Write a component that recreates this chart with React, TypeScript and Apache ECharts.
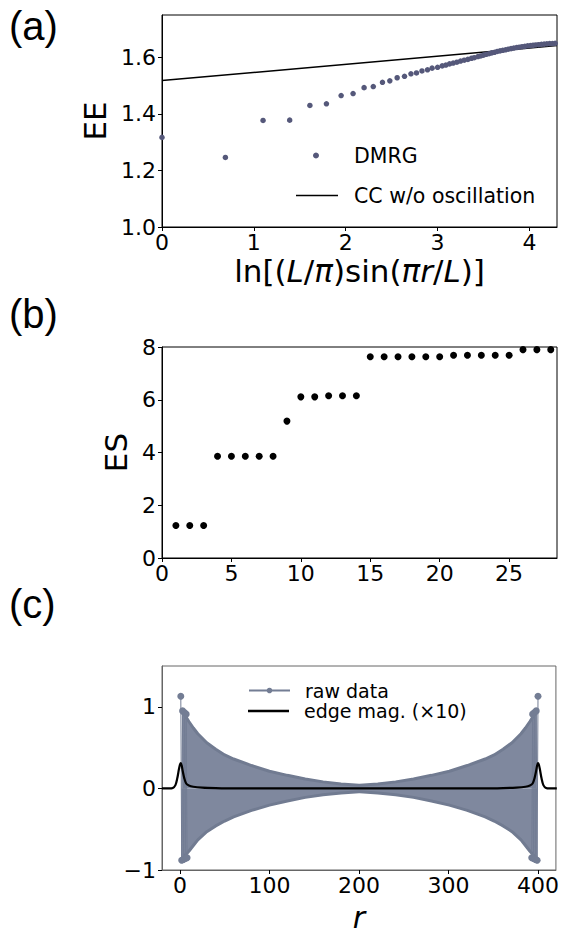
import React, { useEffect, useRef } from "react";
import * as echarts from "echarts";

// ---------- Panel (a): entanglement entropy ----------
const eeX = [0, 0.69, 1.10, 1.39, 1.61, 1.79, 1.95, 2.08, 2.20, 2.30, 2.40, 2.48, 2.56, 2.64, 2.71, 2.77, 2.83, 2.89, 2.94, 3.00,
  3.05, 3.09, 3.13, 3.17, 3.21, 3.25, 3.29, 3.33, 3.37, 3.40, 3.44, 3.47, 3.50, 3.53, 3.56, 3.59, 3.62, 3.65, 3.68, 3.71,
  3.74, 3.77, 3.80, 3.83, 3.86, 3.89, 3.92, 3.95, 3.98, 4.01, 4.04, 4.07, 4.10, 4.13, 4.16, 4.19, 4.22, 4.25, 4.28];
const eeY = [1.317, 1.246, 1.377, 1.378, 1.430, 1.436, 1.465, 1.472, 1.493, 1.497, 1.512, 1.517, 1.528, 1.533, 1.542, 1.545, 1.552, 1.556, 1.562, 1.565,
  1.570, 1.573, 1.577, 1.580, 1.583, 1.587, 1.590, 1.593, 1.597, 1.599, 1.603, 1.605, 1.608, 1.611, 1.613, 1.616, 1.618, 1.621, 1.623, 1.625,
  1.627, 1.629, 1.631, 1.633, 1.635, 1.636, 1.638, 1.639, 1.641, 1.642, 1.643, 1.644, 1.645, 1.646, 1.647, 1.648, 1.649, 1.649, 1.650];
const ccX = [0, 4.3];
const ccY = [1.518, 1.642];
const aXTicks = [0, 1, 2, 3, 4];
const aYTicks = [1.0, 1.2, 1.4, 1.6];

// ---------- Panel (b): entanglement spectrum ----------
const esIdx = [1, 2, 3, 4, 5, 6, 7, 8, 9, 10, 11, 12, 13, 14, 15, 16, 17, 18, 19, 20, 21, 22, 23, 24, 25, 26, 27, 28];
const esVal = [1.23, 1.23, 1.23, 3.86, 3.86, 3.86, 3.86, 3.86, 5.19, 6.11, 6.11, 6.15, 6.15, 6.15,
  7.63, 7.63, 7.63, 7.63, 7.63, 7.63, 7.69, 7.69, 7.69, 7.69, 7.69, 7.90, 7.90, 7.90];
const bXTicks = [0, 5, 10, 15, 20, 25];
const bYTicks = [0, 2, 4, 6, 8];

// ---------- Panel (c): raw data and edge magnetization ----------
const rawEdgeR = [1, 2, 3, 4, 5, 6, 7, 8, null, 393, 394, 395, 396, 397, 398, 399, 400];
const rawEdgeV = [1.13, -0.88, 0.95, -0.87, 0.93, -0.86, 0.91, -0.85, null, -0.85, 0.91, -0.86, 0.93, -0.87, 0.95, -0.88, 1.13];
const upperR = [3, 6, 10, 15, 20, 30, 40, 50, 60, 80, 100, 120, 140, 160, 180, 200, 201, 221, 241, 261, 281, 301, 321, 341, 351, 361, 371, 381, 386, 391, 395, 398];
const upperV = [0.95, 0.89, 0.82, 0.74, 0.67, 0.56, 0.48, 0.41, 0.36, 0.28, 0.21, 0.16, 0.115, 0.08, 0.055, 0.04, 0.04, 0.055, 0.08, 0.115, 0.16, 0.21, 0.28, 0.36, 0.41, 0.48, 0.56, 0.67, 0.74, 0.82, 0.89, 0.95];
const lowerR = [2, 5, 10, 15, 20, 30, 40, 50, 60, 80, 100, 120, 140, 160, 180, 200, 201, 221, 241, 261, 281, 301, 321, 341, 351, 361, 371, 381, 386, 391, 396, 399];
const lowerV = [-0.88, -0.83, -0.77, -0.70, -0.63, -0.53, -0.46, -0.40, -0.35, -0.27, -0.205, -0.155, -0.11, -0.078, -0.055, -0.04, -0.04, -0.055, -0.078, -0.11, -0.155, -0.205, -0.27, -0.35, -0.40, -0.46, -0.53, -0.63, -0.70, -0.77, -0.83, -0.88];
const edgeR = [-20, -12, -8, -5, -3, -1, 0, 1, 2, 3, 5, 7, 10, 15, 25, 40, 60, 341, 361, 376, 386, 391, 394, 396, 398, 399, 400, 401, 402, 404, 406, 409, 413, 421];
const edgeV = [0, 0, 0.005, 0.04, 0.12, 0.24, 0.29, 0.31, 0.28, 0.22, 0.12, 0.06, 0.035, 0.02, 0.01, 0.004, 0, 0, 0.004, 0.01, 0.02, 0.035, 0.06, 0.12, 0.22, 0.28, 0.31, 0.29, 0.24, 0.12, 0.04, 0.005, 0, 0];
const cXTicks = [0, 100, 200, 300, 400];
const cYTicks = [-1, 0, 1];

const zip = (xs: (number | null)[], ys: (number | null)[]) =>
  xs.map((x, i) => (x === null || ys[i] === null ? [null, null] : [x, ys[i]]));

const FONT = "DejaVu Sans";
const tickFont = { fontSize: 22, fontFamily: FONT, color: "#000" };

function axisBase(lineColor: string) {
  return {
    type: "value" as const,
    splitLine: { show: false },
    axisLine: { show: true, onZero: false, lineStyle: { color: lineColor, width: 1 } },
  };
}
const ticks = (vals: number[]) => ({ show: true, length: 4, customValues: vals, lineStyle: { color: "#000", width: 1 } });

export default function App() {
  const ref = useRef<HTMLDivElement>(null);
  useEffect(() => {
    if (!ref.current) return;
    const chart = echarts.init(ref.current, undefined, { renderer: "svg" });
    const minus = (v: number) => String(v).replace("-", "\u2212");
    const legText = (size: number, pad: number) => ({ fontSize: size, fontFamily: FONT, color: "#000", padding: [0, 0, 0, pad] });
    const option: any = {
      animation: false,
      backgroundColor: "#fff",
      grid: [
        { left: 162, top: 15, width: 395, height: 212, show: true, borderColor: "#000", borderWidth: 1, backgroundColor: "transparent" },
        { left: 162, top: 347, width: 395, height: 211, show: true, borderColor: "#000", borderWidth: 1, backgroundColor: "transparent" },
        { left: 162, top: 666, width: 395, height: 211, show: true, borderColor: "#666", borderWidth: 1, backgroundColor: "transparent" },
      ],
      xAxis: [
        {
          ...axisBase("#000"), gridIndex: 0, min: 0, max: 4.3,
          axisTick: ticks(aXTicks),
          axisLabel: { ...tickFont, margin: 4, customValues: aXTicks },
          name: "{n|ln[(}{i|L}{n|/}{i|π}{n|)sin(}{i|πr}{n|/}{i|L}{n|)]}",
          nameLocation: "middle", nameGap: 28,
          nameTextStyle: {
            rich: {
              n: { fontSize: 31, fontFamily: FONT, color: "#000" },
              i: { fontSize: 31, fontFamily: FONT, fontStyle: "italic", color: "#000" },
            },
          },
        },
        {
          ...axisBase("#000"), gridIndex: 1, min: 0, max: 28.45,
          axisTick: ticks(bXTicks),
          axisLabel: { ...tickFont, margin: 4, customValues: bXTicks },
        },
        {
          ...axisBase("#666"), gridIndex: 2, min: -20, max: 420,
          axisTick: ticks(cXTicks),
          axisLabel: { ...tickFont, margin: 4, customValues: cXTicks },
          name: "r", nameLocation: "middle", nameGap: 32,
          nameTextStyle: { fontSize: 30, fontFamily: FONT, fontStyle: "italic", color: "#000" },
        },
      ],
      yAxis: [
        {
          ...axisBase("#000"), gridIndex: 0, min: 1.0, max: 1.75,
          axisTick: ticks(aYTicks),
          axisLabel: { ...tickFont, margin: 6, customValues: aYTicks, formatter: (v: number) => v.toFixed(1) },
          name: "EE", nameLocation: "middle", nameGap: 50,
          nameTextStyle: { fontSize: 31, fontFamily: FONT, color: "#000" },
        },
        {
          ...axisBase("#000"), gridIndex: 1, min: 0, max: 8,
          axisTick: ticks(bYTicks),
          axisLabel: { ...tickFont, margin: 6, customValues: bYTicks },
          name: "ES", nameLocation: "middle", nameGap: 28,
          nameTextStyle: { fontSize: 31, fontFamily: FONT, color: "#000" },
        },
        {
          ...axisBase("#666"), gridIndex: 2, min: -1, max: 1.5,
          axisTick: ticks(cYTicks),
          axisLabel: { ...tickFont, margin: 6, customValues: cYTicks, formatter: minus },
        },
      ],
      legend: [
        {
          data: [{ name: "DMRG", icon: "circle" }], left: 313, top: 145, padding: 0, orient: "vertical", itemWidth: 6, itemHeight: 6,
          selectedMode: false, textStyle: legText(20.5, 30),
        },
        {
          data: [{ name: "CC w/o oscillation", icon: "rect" }], left: 296, top: 185, padding: 0, orient: "vertical", itemWidth: 42, itemHeight: 1.5,
          selectedMode: false, textStyle: legText(20.5, 11),
        },
        {
          data: ["raw data"], left: 248, top: 681, padding: 0, orient: "vertical", itemWidth: 41, itemHeight: 7,
          selectedMode: false, textStyle: legText(19, 10),
        },
        {
          data: [{ name: "edge mag. (×10)", icon: "rect" }], left: 248, top: 701.5, padding: 0, orient: "vertical", itemWidth: 41, itemHeight: 2.5,
          selectedMode: false, textStyle: legText(19, 10),
        },
      ],
      graphic: [
        { type: "text", left: 9, top: 6, style: { text: "(a)", fontSize: 40, fontFamily: "Liberation Sans", fill: "#000" } },
        { type: "text", left: 9, top: 294, style: { text: "(b)", fontSize: 40, fontFamily: "Liberation Sans", fill: "#000" } },
        { type: "text", left: 9, top: 584, style: { text: "(c)", fontSize: 40, fontFamily: "Liberation Sans", fill: "#000" } },
      ],
      series: [
        {
          type: "scatter", name: "DMRG", xAxisIndex: 0, yAxisIndex: 0, symbol: "circle", symbolSize: 5.5,
          itemStyle: { color: "#55587a", opacity: 1 }, data: zip(eeX, eeY), z: 3,
        },
        {
          type: "line", name: "CC w/o oscillation", xAxisIndex: 0, yAxisIndex: 0, symbol: "none",
          lineStyle: { color: "#000", width: 1.5 }, itemStyle: { color: "#000" }, data: zip(ccX, ccY), z: 2,
        },
        {
          type: "scatter", name: "ES", xAxisIndex: 1, yAxisIndex: 1, symbol: "circle", symbolSize: 7,
          itemStyle: { color: "#000", opacity: 1 }, data: zip(esIdx, esVal),
        },
        {
          type: "line", name: "raw band upper", xAxisIndex: 2, yAxisIndex: 2, symbol: "none",
          lineStyle: { color: "#717b91", width: 3 }, areaStyle: { color: "#7f889e", opacity: 1 },
          data: zip(upperR, upperV), z: 1,
        },
        {
          type: "line", name: "raw band lower", xAxisIndex: 2, yAxisIndex: 2, symbol: "none",
          lineStyle: { color: "#717b91", width: 3 }, areaStyle: { color: "#7f889e", opacity: 1 },
          data: zip(lowerR, lowerV), z: 1,
        },
        {
          type: "line", name: "raw data", xAxisIndex: 2, yAxisIndex: 2, symbol: "circle", symbolSize: 7,
          showSymbol: true, connectNulls: false,
          lineStyle: { color: "#737d94", width: 1 }, itemStyle: { color: "#737d94" },
          data: zip(rawEdgeR, rawEdgeV), z: 2,
        },
        {
          type: "line", name: "edge mag. (×10)", xAxisIndex: 2, yAxisIndex: 2, symbol: "none", smooth: 0.3,
          lineStyle: { color: "#000", width: 2.2 }, itemStyle: { color: "#000" },
          data: zip(edgeR, edgeV), z: 4,
        },
      ],
    };
    chart.setOption(option);
    return () => chart.dispose();
  }, []);
  return <div ref={ref} style={{ position: "absolute", left: 0, top: 0, width: 562, height: 933 }} />;
}
